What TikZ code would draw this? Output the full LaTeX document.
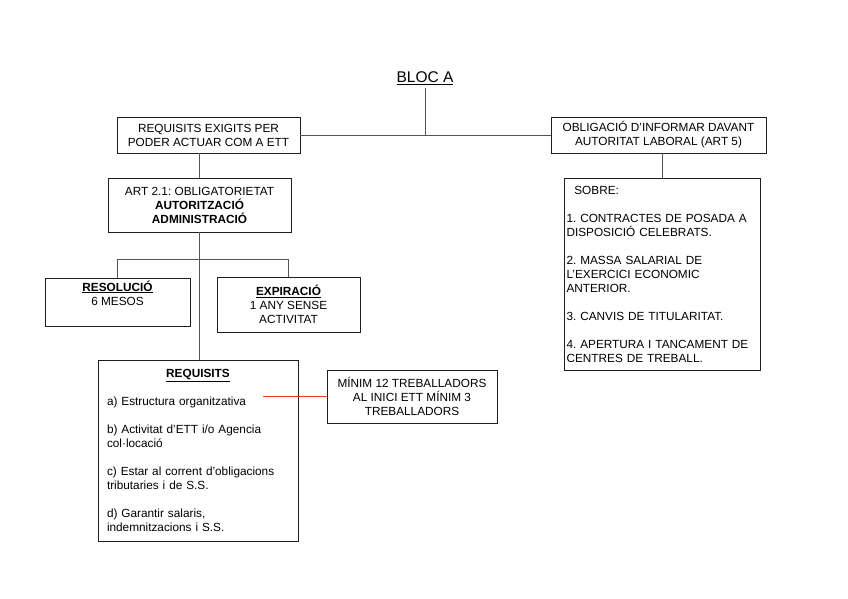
\documentclass[tikz,border=0pt]{standalone}
\usepackage{fontspec}
\setmainfont{Liberation Sans}
\usetikzlibrary{positioning, calc}
\definecolor{LN}{RGB}{85,85,85}
\definecolor{BX}{RGB}{30,30,30}
\definecolor{RL}{RGB}{225,60,45}

\tikzset{
  box/.style={draw=BX, line width=0.9pt, align=center, inner sep=2pt,
    font=\fontsize{11.8}{14}\selectfont},
  lbox/.style={box, align=left},
  conn/.style={draw=LN, line width=0.9pt}
}

\begin{document}
\frenchspacing
\begin{tikzpicture}[x=1pt, y=-1pt]
\useasboundingbox (0,0) rectangle (848,599);

\node[font=\fontsize{15.5}{17}\selectfont] (bloc) at (425,78) {\underline{BLOC A}};

\node[box, minimum width=183, minimum height=36] (exig) at (208.5,135)
  {REQUISITS EXIGITS PER\\PODER ACTUAR COM A ETT};
\node[box, minimum width=215, minimum height=36] (oblig) at (658.5,135)
  {OBLIGACIÓ D'INFORMAR DAVANT\\AUTORITAT LABORAL (ART 5)};
\node[box, minimum width=183, minimum height=54] (art) at (199.5,205)
  {ART 2.1: OBLIGATORIETAT\\\textbf{AUTORITZACIÓ}\\\textbf{ADMINISTRACIÓ}};
\node[box, minimum width=145, minimum height=48] (resol) at (117.5,302)
  {\underline{\textbf{RESOLUCIÓ}}\\6 MESOS\\\strut};
\node[box, minimum width=143, minimum height=55] (expir) at (288.5,304.5)
  {\underline{\textbf{EXPIRACIÓ}}\\1 ANY SENSE\\ACTIVITAT};
\node[lbox, inner xsep=9pt, text width=182, minimum height=181] (requis) at (198,450.5)
  {\makebox[\linewidth]{\underline{\textbf{REQUISITS}}}\\[14pt]
   a) Estructura organitzativa\\[14pt]
   b) Activitat d'ETT i/o Agencia\\col·locació\\[14pt]
   c) Estar al corrent d'obligacions\\tributaries i de S.S.\\[14pt]
   d) Garantir salaris,\\indemnitzacions i S.S.};
\node[box, minimum width=170, minimum height=53] (minim) at (412,396.5)
  {MÍNIM 12 TREBALLADORS\\AL INICI ETT MÍNIM 3\\TREBALLADORS};
\node[lbox, text width=192, minimum height=192] (sobre) at (662.5,274)
  {\ \ SOBRE:\\[14pt]
   1. CONTRACTES DE POSADA A\\DISPOSICIÓ CELEBRATS.\\[14pt]
   2. MASSA SALARIAL DE\\L'EXERCICI ECONOMIC\\ANTERIOR.\\[14pt]
   3. CANVIS DE TITULARITAT.\\[14pt]
   4. APERTURA I TANCAMENT DE\\CENTRES DE TREBALL.};

\coordinate (estr) at (263,396.5);

% connectors
\draw[conn] (exig.east) -- (oblig.west);
\draw[conn] (bloc.south) -- (bloc.south |- exig.east);
\draw[conn] (art.north) -- (art.north |- exig.south);
\draw[conn] (art.south) -- (art.south |- requis.north);
\draw[conn] (resol.north) -- ++(0,-18) -| (expir.north);
\draw[conn] (sobre.north) -- (sobre.north |- oblig.south);
\draw[RL, line width=0.9pt] (estr) -- (minim.west);
\end{tikzpicture}
\end{document}
